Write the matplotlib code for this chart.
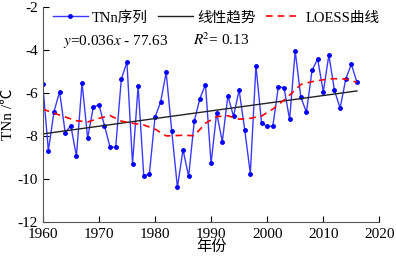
import numpy as np
import matplotlib.pyplot as plt

plt.rcParams['font.family'] = ['Liberation Serif', 'Noto Sans CJK SC']
plt.rcParams['mathtext.fontset'] = 'stix'
plt.rcParams['axes.unicode_minus'] = False

years = list(range(1960, 2017))
tnn = [-5.59, -8.69, -6.87, -5.94, -7.85, -7.52, -8.95, -5.52, -8.10, -6.67,
       -6.54, -7.52, -8.53, -8.52, -5.36, -4.55, -9.31, -5.67, -9.85, -9.78,
       -7.13, -6.43, -5.04, -7.79, -10.40, -8.64, -9.89, -7.32, -6.26, -5.61,
       -9.28, -6.92, -8.27, -6.13, -7.09, -5.86, -7.72, -9.76, -4.73, -7.40,
       -7.55, -7.55, -5.70, -5.75, -7.23, -4.04, -6.20, -6.89, -4.94, -4.41,
       -5.95, -4.23, -5.88, -6.71, -5.36, -4.66, -5.49]

loess_years = [1960, 1963, 1966, 1968, 1970, 1972, 1974, 1976, 1978, 1980,
               1982, 1985, 1987, 1989, 1991, 1993, 1995, 1997, 1999, 2001,
               2003, 2005, 2006, 2008, 2010, 2012, 2014, 2016]
loess = [-6.75, -7.03, -7.29, -7.35, -7.18, -7.05, -7.31, -7.41, -7.49, -7.68,
         -8.00, -7.97, -7.99, -7.41, -7.10, -7.06, -7.22, -7.18, -7.07, -6.75,
         -6.33, -5.86, -5.60, -5.47, -5.38, -5.33, -5.35, -5.50]

fig = plt.figure(figsize=(3.96, 2.59), dpi=100)
ax = fig.add_axes([0.108, 0.144, 0.85, 0.828])

ax.plot(years, tnn, color='#3a3aff', lw=1, marker='o', ms=2.5,
        mfc='blue', mec='blue', label='TNn序列')
k, b = np.polyfit(years, tnn, 1)
yr = np.array([years[0], years[-1]])
ax.plot(yr, k * yr + b, color='#222222', lw=1, label='线性趋势')
ax.plot(loess_years, loess, color='red', lw=1.2, ls=(0, (4, 3)), label='LOESS曲线')

ax.set_xlim(1960, 2020)
ax.set_ylim(-12, -2)
ax.set_xticks(range(1960, 2021, 10))
ax.set_yticks(range(-12, -1, 2))
ax.tick_params(direction='in', labelsize=11, length=4)
ax.tick_params(axis='x', pad=4.5)
for s in ['top', 'right']:
    ax.spines[s].set_visible(False)
ax.spines['left'].set_color('#555555')
ax.spines['bottom'].set_color('#555555')

ax.set_xlabel('年份', fontsize=11, labelpad=-1)
ax.set_ylabel('TNn /℃', fontsize=11, labelpad=2)

ax.legend(loc='upper left', bbox_to_anchor=(-0.01, 1.045), ncol=3, frameon=False,
          fontsize=10.5, handlelength=2.4, columnspacing=0.7, handletextpad=0.3)
ax.text(0.06, 0.822, '$y$=0.036$x$ - 77.63', transform=ax.transAxes, fontsize=11)
ax.text(0.445, 0.822, '$R$$^2$= 0.13', transform=ax.transAxes, fontsize=11)

fig.savefig('out.png', dpi=100)
